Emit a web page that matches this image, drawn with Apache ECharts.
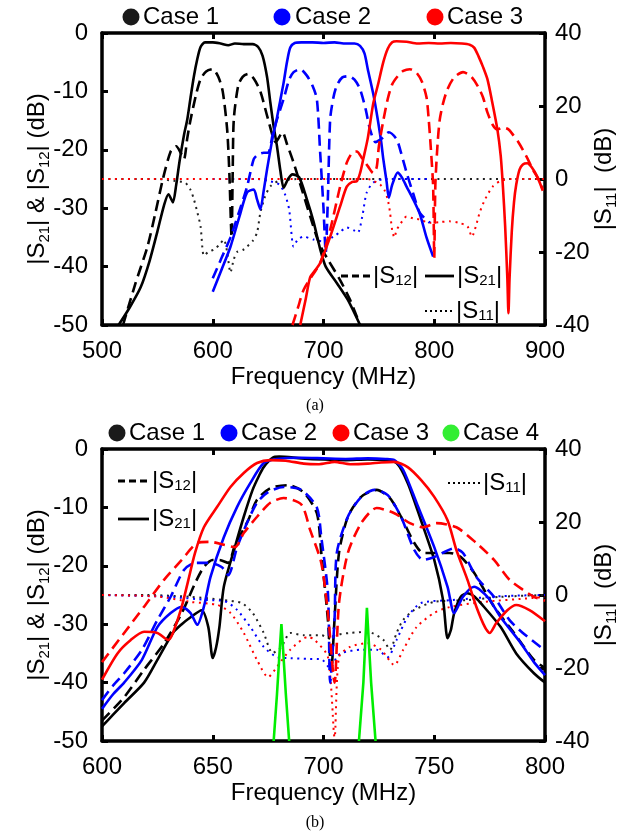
<!DOCTYPE html>
<html>
<head>
<meta charset="utf-8">
<script src="https://cdn.jsdelivr.net/npm/echarts@6/dist/echarts.min.js"></script>
<style>
html,body{margin:0;padding:0;background:#fff;}
#c{width:629px;height:838px;}
</style>
</head>
<body>
<div id="c"></div>
<script>
// ---------- Panel (a) data: [frequency MHz, dB] ----------
var a1S21 = [[515,-50],[525,-47],[535,-43.5],[543,-39],[550,-34],[556,-29.5],[560,-27.6],[564,-29],[567,-26],[570,-22],[574,-17.5],[577,-14.8],[580,-11],[583,-7.4],[586,-4.5],[589,-2.4],[593,-1.6],[600,-1.6],[607,-1.8],[614,-2.1],[620,-1.8],[628,-1.9],[636,-1.9],[641,-2.4],[645,-3.9],[649,-7.5],[652,-11.9],[655,-16],[658,-19.4],[661,-23.5],[664,-26.5],[668,-25],[672,-24.2],[678,-24.7],[685,-28.5],[691,-32.3],[697,-37],[702,-40],[712,-42.8],[722,-45.7],[733,-50]];
var a1S12 = [[519,-50],[530,-43],[541,-36.6],[548,-31],[555,-25],[562,-20.3],[567,-19.4],[571,-20.5],[574,-21.6],[577,-18],[580,-14.8],[585,-10.5],[589,-7.9],[594,-6.6],[600,-6.2],[605,-7.5],[609,-10],[613,-16.5],[615,-24],[617,-35],[618,-24],[619,-14.8],[623,-9],[627,-7.5],[632,-7],[637,-7.8],[643,-10],[650,-14.8],[657,-18.7],[663,-17],[667,-19],[673,-22.2],[680,-26.5],[688,-31.4],[696,-36],[704,-38.8],[715,-42.3],[724,-45.7],[733,-50]];
var a1S11 = [[500,0],[550,0],[565,-0.5],[575,-1],[580,-3],[583,-5.6],[586,-9],[589,-13],[592,-21],[596,-20],[601,-19.3],[606,-18],[610,-16.6],[613,-20],[616,-25.6],[619,-22],[622,-20],[627,-19.5],[631,-18.5],[636,-17],[640,-14.7],[643,-9.2],[647,-5],[652,-2],[660,-0.5],[680,0],[900,0]];
var a2S21 = [[600,-44.3],[608,-40.5],[616,-36.6],[624,-31.5],[631,-27.3],[637,-26.8],[640,-28.5],[643,-30.2],[646,-27],[649,-23.4],[654,-18],[658,-14.5],[661,-11.5],[664,-8.5],[667,-5],[670,-2.5],[674,-1.7],[680,-1.6],[690,-1.6],[700,-1.7],[710,-1.6],[720,-1.8],[728,-1.8],[733,-2.2],[737,-3.5],[740,-6.2],[745,-10.5],[749,-14.8],[752,-18.5],[754,-21.6],[757,-25.5],[759,-28.2],[762,-26],[767,-23.9],[771,-24.8],[775,-26.3],[781,-28.5],[787,-31],[793,-35],[799,-38.3]];
var a2S12 = [[600,-42],[608,-38.5],[616,-35],[624,-30.5],[631,-26.3],[637,-21.6],[641,-20.8],[646,-20.5],[650,-20.5],[654,-17.5],[658,-14.8],[664,-11.3],[669,-8],[673,-6.7],[679,-6.2],[685,-7.3],[690,-9],[694,-11.3],[697,-20.5],[700,-30],[702,-37.6],[704,-28],[706,-14.8],[709,-11],[712,-9],[717,-7.6],[723,-7.4],[728,-8],[733,-9.6],[738,-13],[742,-16.5],[747,-18.7],[753,-18],[759,-17],[766,-18.2],[770,-20.5],[775,-23.9],[781,-27.5],[787,-30.8],[796,-32.5]];
var a2S11 = [[600,0],[640,0],[650,-0.5],[660,-1.5],[665,-4],[669,-8.4],[673,-18.5],[677,-16.5],[682,-15.8],[691,-16.6],[700,-17.1],[709,-15.8],[715,-14.5],[721,-13.3],[727,-14],[731,-14.7],[735,-10.3],[739,-3.7],[745,-1],[755,0],[796,0]];
var a3S21 = [[679,-50],[684,-45.5],[688,-41.8],[693,-40.5],[697,-39.4],[706,-34.9],[715,-29.7],[721,-26.3],[726,-25.5],[730,-25.4],[733,-24],[736,-21.5],[740,-18],[745,-12],[749,-9],[754,-5],[758,-2.7],[762,-1.6],[766,-1.4],[775,-1.5],[785,-1.8],[795,-1.7],[805,-1.8],[815,-1.7],[825,-1.8],[832,-2],[836,-2.5],[840,-4],[844,-5.8],[848,-7.9],[852,-11.5],[857,-16.5],[860,-21],[862,-26.3],[864,-33],[866,-42],[867,-48],[868,-42],[870,-34],[872,-29],[874,-26],[877,-23.4],[880,-22.5],[884,-22.3],[888,-23],[893,-24.6],[898,-27]];
var a3S12 = [[672,-50],[677,-47],[682,-44],[690,-41.5],[697,-39.4],[706,-33.7],[715,-26.3],[721,-22.2],[726,-20.5],[730,-20.3],[735,-21.5],[740,-22.8],[745,-24],[748,-23],[750,-19.4],[754,-15],[758,-11.3],[762,-8.8],[767,-7.4],[772,-6.5],[778,-6.2],[784,-6.8],[789,-8.4],[793,-11],[795,-14.8],[797,-20],[799,-26.3],[800,-38.5],[801,-26],[803,-19],[805,-14.8],[808,-12],[812,-9.6],[818,-7.6],[826,-6.7],[833,-7.4],[839,-9],[844,-11],[848,-13.6],[853,-15.8],[857,-16.5],[862,-16.2],[867,-16.5],[871,-17.4],[876,-18.7],[880,-20],[885,-21.8],[889,-23.4],[894,-25],[898,-26.8]];
var a3S11 = [[500,0],[740,0],[745,-0.5],[751,-1.5],[755,-3],[758,-5.6],[760,-9],[762,-14],[764,-16],[766,-14],[769,-12.5],[775,-10.3],[781,-10.8],[787,-11.1],[796,-12],[805,-11.8],[814,-11.6],[822,-12],[830,-13],[834,-15.8],[838,-12.5],[841,-9.2],[846,-5.5],[853,-2],[860,-0.5],[870,0],[900,0]];

// ---------- Panel (b) data ----------
var b1S21 = [[600,-47.5],[605,-45.5],[610,-43.5],[619,-40],[625,-36.1],[632,-31.5],[636,-30],[640,-28.8],[645,-27.6],[648,-30.5],[650,-35.8],[651.5,-34],[653,-30.5],[655,-23.6],[660,-16.8],[664,-11.6],[668,-7],[671,-4.5],[673,-3.1],[677,-1.5],[680,-1.3],[690,-1.6],[700,-1.8],[710,-1.9],[720,-1.8],[727,-1.9],[733,-2.4],[738,-5.8],[744,-12.2],[750,-19],[754,-25.9],[756,-32.4],[757.5,-31],[759,-28.1],[762,-25.3],[765,-24.7],[768,-25.2],[771,-26.4],[780,-30.5],[787,-35],[795,-38.4],[800,-40]];
var b1S12 = [[600,-46.5],[610,-42.5],[619,-37.8],[628,-33.3],[636,-28.1],[642,-23],[646,-20.2],[650,-19],[653,-19],[657,-19.5],[660,-16.5],[666,-12.2],[670,-8.7],[676,-6.7],[684,-6.2],[691,-7.4],[697,-11],[699,-17.8],[702,-29.3],[703.5,-38],[705,-29],[707,-17.8],[711,-11.6],[717,-8.2],[724,-7],[730,-8.4],[735,-11.6],[741,-16.1],[745,-17.8],[751,-17.8],[757,-17.8],[762,-18.5],[768,-21.2],[777,-27],[786,-31.5],[795,-36.1],[800,-37.5]];
var b1S11 = [[600,0],[620,0],[640,-0.5],[655,-1.4],[663,-2.2],[668,-4.9],[673,-10.4],[677,-15.9],[681,-14.2],[685,-10.4],[691,-11],[699,-11],[703,-12],[705,-11],[712,-10.4],[720,-10.1],[727,-12.3],[730,-15],[733,-10.4],[736,-6.8],[741,-4.1],[750,-1.9],[765,-1.4],[780,-0.5],[800,0]];
var b2S21 = [[600,-44.5],[605,-42],[610,-40],[618,-36.1],[625,-30.5],[631,-28.1],[636,-27],[640,-28.1],[643,-30.1],[646,-27],[649,-21.9],[655,-15.1],[661,-9.9],[667,-5.8],[673,-2.4],[679,-1.7],[690,-1.5],[700,-1.6],[710,-1.7],[720,-1.6],[728,-1.7],[732,-1.9],[736,-3.6],[742,-9.2],[750,-16.8],[756,-23.6],[759,-28.1],[763,-25.3],[768,-23.6],[774,-25.3],[780,-28.8],[789,-33.2],[795,-36.5],[800,-38.7]];
var b2S12 = [[600,-43],[605,-40.5],[610,-38.4],[618,-34.4],[625,-29.3],[631,-25.3],[637,-20.7],[642,-19.5],[649,-19.5],[654,-20.2],[657,-21.6],[661,-16.8],[666,-12.2],[670,-9.2],[675,-7.4],[682,-6.5],[690,-7],[697,-10],[699,-15.1],[702,-24.7],[703,-40],[705,-29],[706,-17.8],[711,-11.6],[717,-8.2],[723,-7],[729,-7.9],[735,-11.6],[741,-17.3],[745,-19],[750,-18.5],[759,-17],[763,-17.8],[769,-21.9],[777,-25.3],[784,-29.3],[790,-31.5],[798,-33.9],[800,-34.5]];
var b2S11 = [[600,0],[630,-0.5],[648,-1.4],[655,-1.6],[661,-4.1],[667,-8.8],[673,-14.2],[679,-17],[685,-17.3],[693,-17.5],[699,-17.6],[703,-20],[706,-17],[708,-15.9],[717,-15],[724,-15],[729,-17],[733,-12.3],[738,-6],[744,-2.2],[758,-1.4],[781,-0.3],[800,0]];
var b3S21 = [[600,-39.5],[607,-35],[613,-32.7],[619,-31.3],[625,-31.5],[630,-32.7],[632,-31.5],[636,-27],[639,-22.4],[642,-17.8],[646,-13.4],[652,-9.9],[658,-6.5],[664,-4.1],[670,-2.4],[676,-1.9],[683,-2],[691,-2.5],[698,-2.6],[705,-2.2],[712,-2.6],[720,-2.5],[726,-2.3],[732,-2.2],[738,-3.1],[744,-5.3],[750,-8.2],[756,-12.2],[760,-17.3],[765,-22.4],[769,-27],[773,-30.6],[775,-31.5],[778,-29.8],[783,-27.6],[787,-26.7],[793,-27.6],[800,-29.5]];
var b3S12 = [[600,-36.5],[610,-31.5],[619,-27],[628,-22.4],[636,-19],[643,-16.1],[649,-15.9],[655,-16.4],[660,-16.8],[664,-14.4],[670,-11.6],[676,-9.2],[682,-8.4],[690,-9.5],[694,-13.9],[699,-19.5],[702,-28.1],[705,-40],[707,-26.4],[711,-17.8],[717,-12.7],[724,-10.1],[732,-11],[739,-12.7],[745,-13.4],[751,-12.7],[760,-13.4],[769,-16.1],[777,-19],[784,-22.4],[790,-24.1],[795,-25.3],[800,-26]];
var b3S11 = [[600,0],[625,-0.4],[640,-1.9],[652,-2.7],[658,-4.9],[664,-10.4],[670,-17.8],[675,-22.5],[679,-19.7],[685,-15],[693,-11.5],[696,-12.3],[702,-17],[705,-39],[707,-17],[712,-14.2],[720,-13.2],[726,-15],[732,-19.2],[736,-15],[742,-8.8],[750,-4.9],[757,-3.3],[772,-1.9],[795,-0.8],[800,-0.5]];
var b4PeakA = [[677.5,-50],[679,-42],[680.3,-34],[681,-30],[681.7,-34],[683,-42],[684.5,-50]];
var b4PeakB = [[716,-50],[718,-40],[719,-32],[719.6,-27.2],[720.3,-32],[721.5,-40],[723.5,-50]];

var caseNames = ['Case 1','Case 2','Case 3','Case 4'];
var caseColors = ['#000000','#0000ff','#ff0000','#00ee00'];
var xTicksA = [500, 900, 100];
var xTicksB = [600, 800, 50];

var FONT = '"Liberation Sans", Arial, sans-serif';
var DASH = [11, 6];
var DOT = [2, 4.5];

function ser(data, color, style, xi, yi, smooth) {
  var w = style === 'dot' ? 2 : 2.6;
  return {
    type: 'line', data: data, xAxisIndex: xi, yAxisIndex: yi,
    showSymbol: false, symbol: 'none', smooth: smooth === undefined ? 0.25 : smooth,
    clip: true, silent: true,
    lineStyle: { color: color, width: w,
      type: style === 'dash' ? DASH : (style === 'dot' ? DOT : 'solid') }
  };
}

var rich = {
  s: { fontSize: 15, fontFamily: FONT, color: '#000', verticalAlign: 'bottom', lineHeight: 15 },
  n: { fontSize: 24, fontFamily: FONT, color: '#000', lineHeight: 30 }
};

function xAx(grid, r) {
  return [{
    type: 'value', gridIndex: grid, position: 'bottom', min: r[0], max: r[1], interval: r[2],
    axisLine: { show: true, onZero: false, lineStyle: { color: '#000', width: 3.5 } },
    axisTick: { show: true, inside: true, length: 6, lineStyle: { color: '#000', width: 3 } },
    axisLabel: { fontSize: 24, fontFamily: FONT, color: '#000', margin: 14 },
    splitLine: { show: false },
    name: 'Frequency (MHz)', nameLocation: 'middle', nameGap: 40, nameMoveOverlap: false,
    nameTextStyle: { fontSize: 24, fontFamily: FONT, color: '#000' }
  }, {
    type: 'value', gridIndex: grid, position: 'top', min: r[0], max: r[1], interval: r[2],
    axisLine: { show: true, onZero: false, lineStyle: { color: '#000', width: 3.5 } },
    axisTick: { show: true, inside: true, length: 6, lineStyle: { color: '#000', width: 3 } },
    axisLabel: { show: false }, splitLine: { show: false }
  }];
}
function yAx(grid) {
  return [{
    type: 'value', gridIndex: grid, position: 'left', min: -50, max: 0, interval: 10,
    axisLine: { show: true, onZero: false, lineStyle: { color: '#000', width: 3.5 } },
    axisTick: { show: true, inside: true, length: 6, lineStyle: { color: '#000', width: 3 } },
    axisLabel: { fontSize: 24, fontFamily: FONT, color: '#000', margin: 14 },
    splitLine: { show: false },
    name: '|S{s|21}| & |S{s|12}| (dB)', nameLocation: 'middle', nameRotate: 90, nameGap: 50,
    nameMoveOverlap: false,
    nameTextStyle: { fontSize: 24, fontFamily: FONT, color: '#000', lineHeight: 30, rich: rich }
  }, {
    type: 'value', gridIndex: grid, position: 'right', min: -40, max: 40, interval: 20,
    axisLine: { show: true, onZero: false, lineStyle: { color: '#000', width: 3.5 } },
    axisTick: { show: true, inside: true, length: 6, lineStyle: { color: '#000', width: 3 } },
    axisLabel: { fontSize: 24, fontFamily: FONT, color: '#000', margin: 10 },
    splitLine: { show: false },
    name: '|S{s|11}|  (dB)', nameLocation: 'middle', nameRotate: 90, nameGap: 44,
    nameMoveOverlap: false,
    nameTextStyle: { fontSize: 24, fontFamily: FONT, color: '#000', lineHeight: 30, rich: rich }
  }];
}

var K = caseColors;
var series = [
  ser(a1S11, '#222', 'dot', 0, 1), ser(a2S11, K[1], 'dot', 0, 1), ser(a3S11, K[2], 'dot', 0, 1),
  ser(a1S12, K[0], 'dash', 0, 0), ser(a1S21, K[0], 'solid', 0, 0),
  ser(a2S12, K[1], 'dash', 0, 0), ser(a2S21, K[1], 'solid', 0, 0),
  ser(a3S12, K[2], 'dash', 0, 0), ser(a3S21, K[2], 'solid', 0, 0),

  ser(b1S11, '#222', 'dot', 2, 3), ser(b2S11, K[1], 'dot', 2, 3), ser(b3S11, K[2], 'dot', 2, 3),
  ser(b1S12, K[0], 'dash', 2, 2), ser(b1S21, K[0], 'solid', 2, 2),
  ser(b2S12, K[1], 'dash', 2, 2), ser(b2S21, K[1], 'solid', 2, 2),
  ser(b3S12, K[2], 'dash', 2, 2), ser(b3S21, K[2], 'solid', 2, 2),
  ser(b4PeakA, K[3], 'solid', 2, 2, false), ser(b4PeakB, K[3], 'solid', 2, 2, false)
];

// legend graphics
var g = [];
function caseLegend(xs, txs, y, n) {
  for (var i = 0; i < n; i++) {
    g.push({ type: 'circle', shape: { cx: xs[i], cy: y, r: 8.5 },
      style: { fill: i === 0 ? '#1a1a1a' : (i === 3 ? '#33ee33' : K[i]) } });
    g.push({ type: 'text', x: txs[i], y: y, style: { text: caseNames[i], font: '24px ' + FONT,
      fill: '#000', verticalAlign: 'middle', align: 'left' } });
  }
}
caseLegend([131, 282, 435], [143, 295, 447], 17, 3);
caseLegend([117, 229, 341, 451], [129, 241, 353, 463], 433, 4);

function keyLine(x1, x2, y, style) {
  g.push({ type: 'line', shape: { x1: x1, y1: y, x2: x2, y2: y },
    style: { stroke: '#000', lineWidth: style === 'dot' ? 2 : 2.8,
      lineDash: style === 'dash' ? [7, 4] : (style === 'dot' ? [2, 3] : null) } });
}
function keyText(x, y, sub) {
  g.push({ type: 'text', x: x, y: y, style: { text: '|S{s|' + sub + '}|', rich: rich,
    font: '24px ' + FONT, fill: '#000', verticalAlign: 'middle', align: 'left' } });
}
// panel (a) in-plot legend
keyLine(341, 371, 276, 'dash'); keyText(373, 276, '12');
keyLine(425, 454, 276, 'solid'); keyText(457, 276, '21');
keyLine(425, 452, 311, 'dot'); keyText(456, 311, '11');
// panel (b) in-plot legend
keyLine(118, 149, 481, 'dash'); keyText(152, 481, '12');
keyLine(118, 149, 519, 'solid'); keyText(152, 519, '21');
keyLine(448, 480, 483, 'dot'); keyText(483, 483, '11');
// captions
g.push({ type: 'text', x: 315, y: 406, style: { text: '(a)', font: '16px "Liberation Serif", "Times New Roman", serif', fill: '#000', align: 'center', verticalAlign: 'middle' } });
g.push({ type: 'text', x: 315, y: 823, style: { text: '(b)', font: '16px "Liberation Serif", "Times New Roman", serif', fill: '#000', align: 'center', verticalAlign: 'middle' } });

var chart = echarts.init(document.getElementById('c'), null, { renderer: 'canvas' });
chart.setOption({
  animation: false,
  backgroundColor: '#fff',
  grid: [
    { left: 102, top: 33, width: 443, height: 292, containLabel: false, outerBoundsMode: 'none' },
    { left: 102, top: 449, width: 443, height: 292, containLabel: false, outerBoundsMode: 'none' }
  ],
  xAxis: xAx(0, xTicksA).concat(xAx(1, xTicksB)),
  yAxis: yAx(0).concat(yAx(1)),
  series: series,
  graphic: g
});
</script>
</body>
</html>
